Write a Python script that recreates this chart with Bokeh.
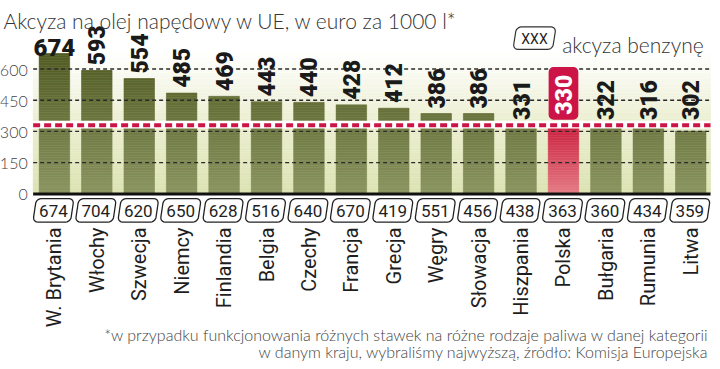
import math
from bokeh.plotting import figure
from bokeh.models import Range1d
from bokeh.core.properties import value
from bokeh.embed import file_html
from bokeh.resources import INLINE

# ---------------- data ----------------
title = "Akcyza na olej napędowy w UE, w euro za 1000 l*"
countries = ["W. Brytania", "Włochy", "Szwecja", "Niemcy", "Finlandia", "Belgia",
             "Czechy", "Francja", "Grecja", "Węgry", "Słowacja", "Hiszpania",
             "Polska", "Bułgaria", "Rumunia", "Litwa"]
diesel = [674, 593, 554, 485, 469, 443, 440, 428, 412, 386, 386, 331, 330, 322, 316, 302]
petrol = [674, 704, 620, 650, 628, 516, 640, 670, 419, 551, 456, 438, 363, 360, 434, 359]
y_ticks = [0, 150, 300, 450, 600]
highlight = "Polska"
legend_sample = "XXX"
legend_label = "akcyza benzynę"
footnote = ["*w przypadku funkcjonowania różnych stawek na różne rodzaje paliwa w danej kategorii",
            "w danym kraju, wybraliśmy najwyższą, źródło: Komisja Europejska"]

# ---------------- layout helpers (reference pixels -> data) ----------------
W, H = 712, 361
REF_W, REF_H = 720, 369
X0, PITCH = 54.5, 42.9      # px of category 0 and category pitch
Y0, K = 197.7, 0.2128       # px of value 0 and px per unit

def dx(px):
    return (px - X0) / PITCH

def dy(py):
    return (Y0 - py) / K

def hex2rgb(h):
    return tuple(int(h[i:i + 2], 16) for i in (1, 3, 5))

def grad(stops, v):
    if v <= stops[0][0]:
        return stops[0][1]
    for (v0, c0), (v1, c1) in zip(stops, stops[1:]):
        if v <= v1:
            t = (v - v0) / (v1 - v0)
            a, b = hex2rgb(c0), hex2rgb(c1)
            return "#%02x%02x%02x" % tuple(round(a[j] + (b[j] - a[j]) * t) for j in range(3))
    return stops[-1][1]

def rounded_para(cx, cy, w, h, r, slant, n=5):
    hw, hh = w / 2, h / 2
    pts = []
    for ux, uy, a0 in [(hw - r, hh - r, 0), (-(hw - r), hh - r, 90),
                       (-(hw - r), -(hh - r), 180), (hw - r, -(hh - r), 270)]:
        for k in range(n + 1):
            a = math.radians(a0 + 90 * k / n)
            pts.append((ux + r * math.cos(a), uy + r * math.sin(a)))
    xs = [dx(cx + u + slant * vv / h) for u, vv in pts]
    ys = [dy(cy - vv) for u, vv in pts]
    return xs, ys

LIGHT = value("Lato Light, Lato, sans-serif")
NUM = value("Roboto")
HEAVY = value("Roboto Black, Roboto")
hi = countries.index(highlight)
ref_line = diesel[hi]
PL, PR = 33, 718          # plot area edges in px
LABEL_LEN = 38 / K        # length of a rotated 3-digit label, in value units

p = figure(width=W, height=H,
           x_range=Range1d(dx(0), dx(REF_W)), y_range=Range1d(dy(REF_H), dy(0)),
           output_backend="svg", toolbar_location=None,
           x_axis_location=None, y_axis_location=None, min_border=0)
p.min_border_left = p.min_border_right = p.min_border_top = p.min_border_bottom = 0
p.outline_line_color = None
p.xgrid.visible = False
p.ygrid.visible = False
p.background_fill_color = "white"
p.border_fill_color = "white"

# background gradient of the plot area
bg_stops = [(0, "#dce3b2"), (330, "#ebeecf"), (680, "#ffffff")]
STEP = 8
bb, bt, bc = [], [], []
for b in range(0, 700, STEP):
    bb.append(b); bt.append(b + STEP); bc.append(grad(bg_stops, b + STEP / 2))
p.quad(left=dx(PL), right=dx(PR), bottom=bb, top=bt, fill_color=bc, line_color=bc, line_width=0.5)

# bars with vertical gradient
bar_stops = [(0, "#8b9562"), (700, "#4f5920")]
red_stops = [(0, "#e57c86"), (330, "#cc2140")]
BW = 0.72
ql, qr, qb, qt, qc = [], [], [], [], []
for i, v in enumerate(diesel):
    stops = red_stops if i == hi else bar_stops
    b = 0
    while b < v:
        t = min(b + STEP, v)
        ql.append(i - BW / 2); qr.append(i + BW / 2); qb.append(b); qt.append(t)
        qc.append(grad(stops, (b + t) / 2))
        b = t
p.quad(left=ql, right=qr, bottom=qb, top=qt, fill_color=qc, line_color=qc, line_width=0.5)

# white band and red dashed reference line (Polish diesel excise)
p.quad(left=dx(PL), right=dx(PR), bottom=ref_line - 16, top=ref_line + 22,
       fill_color="white", line_color=None)
p.line([dx(PL), dx(PR)], [ref_line, ref_line], line_color="#cc1446", line_width=4, line_dash="7 4")

# grid lines over bars
gt = [t for t in y_ticks if t > 0]
p.segment(x0=[dx(PL)] * len(gt), x1=[dx(PR)] * len(gt), y0=gt, y1=gt,
          line_color="#2b2b2b", line_width=1.3, line_dash="4 3")
# baseline
p.line([dx(PL), dx(PR)], [0, 0], line_color="#111111", line_width=3)

# y tick labels
p.text(x=[dx(27.5)] * len(y_ticks), y=[t - 5.0 for t in y_ticks], text=[str(t) for t in y_ticks],
       text_align="right", text_baseline="middle", text_font=LIGHT,
       text_font_size="16px", text_color="#444444")

# value labels (rotated, anchored at their upper end)
xs_r, ys_r, tx_r = [], [], []
for i, v in enumerate(diesel):
    if i == 0 or i == hi:
        continue
    xs_r.append(i); ys_r.append(float(max(v, ref_line) + 38 + LABEL_LEN)); tx_r.append(str(v))
p.text(x=xs_r, y=ys_r, text=tx_r, angle=math.pi / 2, text_align="right", text_baseline="middle",
       text_font=HEAVY, text_font_size="23px", text_color="#1a1a1a")
p.text(x=[0], y=[diesel[0] + 30.0], text=[str(diesel[0])], text_align="center",
       text_baseline="alphabetic", text_font=HEAVY,
       text_font_size="24px", text_color="#1a1a1a")
# highlighted label
hb = ref_line + 26
p.vbar(x=[hi], width=0.7, bottom=[hb], top=[hb + 254], fill_color="#cc1446",
       line_color=None, border_radius=5)
p.text(x=[hi], y=[float(hb + 127 + LABEL_LEN / 2)], text=[str(diesel[hi])], angle=math.pi / 2,
       text_align="right", text_baseline="middle", text_font=HEAVY,
       text_font_size="23px", text_color="white")

# petrol boxes
pxs, pys = [], []
for i in range(len(countries)):
    xs, ys = rounded_para(X0 + PITCH * i - 1, 214.5, 38, 24, 5, 3.5)
    pxs.append(xs); pys.append(ys)
p.patches(pxs, pys, fill_color="white", line_color="#222222", line_width=1.3)
p.text(x=[dx(X0 + PITCH * i - 1) for i in range(len(countries))], y=[dy(215)] * len(countries),
       text=[str(v) for v in petrol], text_align="center", text_baseline="middle",
       text_font=NUM, text_font_size="17px", text_color="#1e1e1e")

# country names
p.text(x=list(range(len(countries))), y=[dy(232)] * len(countries), text=countries,
       angle=math.pi / 2, text_align="right", text_baseline="middle",
       text_font=NUM, text_font_size="20px", text_color="#1e1e1e")

# title
p.text(x=[dx(3)], y=[dy(20)], text=[title], text_align="left", text_baseline="alphabetic",
       text_font=LIGHT, text_font_size="21px", text_color="#333333")

# legend
lx, ly = rounded_para(540, 38.5, 40, 23, 5, 3.5)
p.patch(lx, ly, fill_color="white", line_color="#333333", line_width=1.2)
p.text(x=[dx(540)], y=[dy(39)], text=[legend_sample], text_align="center", text_baseline="middle",
       text_font=NUM, text_font_size="14px", text_color="#222222")
p.text(x=[dx(568)], y=[dy(45)], text=[legend_label], text_align="left", text_baseline="alphabetic",
       text_font=LIGHT, text_font_size="21px", text_color="#333333")

# footnote
p.text(x=[dx(716)] * 2, y=[dy(341), dy(359)], text=footnote, text_align="right",
       text_baseline="alphabetic", text_font=LIGHT, text_font_size="16px", text_color="#444444")

open("out.html", "w").write(file_html(p, INLINE))
